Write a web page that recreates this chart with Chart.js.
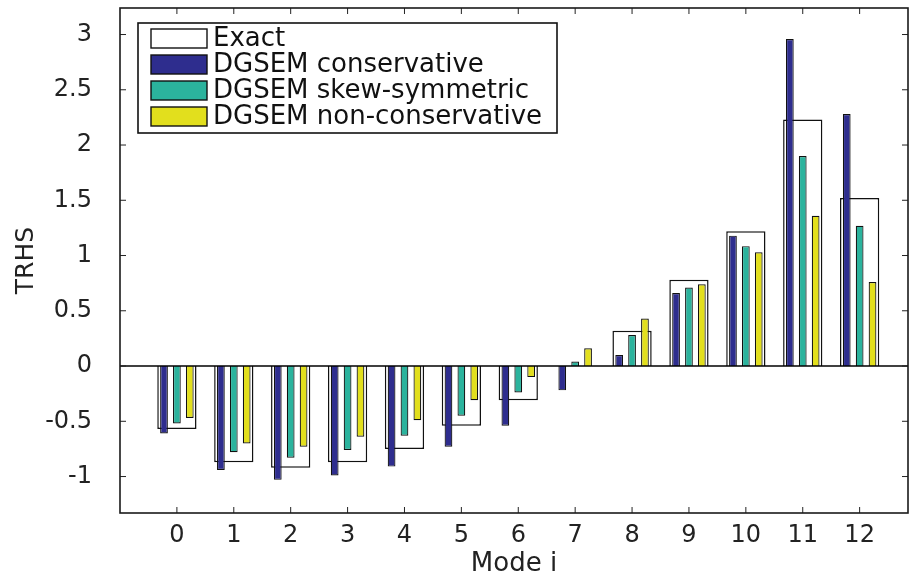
<!DOCTYPE html>
<html>
<head>
<meta charset="utf-8">
<script src="https://cdn.jsdelivr.net/npm/chart.js@4.4.1/dist/chart.umd.min.js"></script>
<style>
html,body{margin:0;padding:0;background:#fff;}
#wrap{width:910px;height:577px;position:relative;}
</style>
</head>
<body>
<div id="wrap"><canvas id="c" width="910" height="577"></canvas></div>
<script>
// ---- data ----
const modes = [0, 1, 2, 3, 4, 5, 6, 7, 8, 9, 10, 11, 12];
const xTickLabels = ['0','1','2','3','4','5','6','7','8','9','10','11','12'];
const yTickValues = [-1, -0.5, 0, 0.5, 1, 1.5, 2, 2.5, 3];
const yTickLabels = ['-1','-0.5','0','0.5','1','1.5','2','2.5','3'];
const seriesNames = ['Exact', 'DGSEM conservative', 'DGSEM skew-symmetric', 'DGSEM non-conservative'];
const exact           = [-0.57, -0.87, -0.92, -0.87, -0.75, -0.54, -0.31, 0.00, 0.32, 0.78, 1.22, 2.23, 1.52];
const conservative    = [-0.61, -0.94, -1.03, -0.99, -0.91, -0.73, -0.54, -0.22, 0.10, 0.66, 1.18, 2.96, 2.28];
const skewSymmetric   = [-0.52, -0.78, -0.83, -0.76, -0.63, -0.45, -0.24, 0.04, 0.28, 0.71, 1.085, 1.90, 1.27];
const nonConservative = [-0.47, -0.70, -0.73, -0.64, -0.49, -0.31, -0.10, 0.16, 0.43, 0.74, 1.03, 1.36, 0.76];

const toPts = arr => modes.map((m, i) => ({ x: m, y: arr[i] }));

const FONT = '"DejaVu Sans", "Liberation Sans", sans-serif';
const TXT = '#222';

const colored = { grouped: true, categoryPercentage: 0.68, barPercentage: 0.6, borderWidth: 1.2, borderColor: '#111', order: 0 };

const framePlugin = {
  id: 'matlabFrame',
  beforeDraw(chart) {
    const c = chart.ctx;
    c.save(); c.fillStyle = '#fff'; c.fillRect(0, 0, chart.width, chart.height); c.restore();
  },
  afterDatasetsDraw(chart, args, opts) {
    const { ctx, chartArea: a, scales: { x, y } } = chart;
    const line = (x1, y1, x2, y2) => { ctx.beginPath(); ctx.moveTo(x1, y1); ctx.lineTo(x2, y2); ctx.stroke(); };
    ctx.save();
    // baseline at 0
    const y0 = y.getPixelForValue(0);
    ctx.strokeStyle = '#000'; ctx.lineWidth = 1.4;
    line(a.left, y0, a.right, y0);
    // inward ticks on all four sides
    ctx.strokeStyle = TXT; ctx.lineWidth = 1;
    const tl = opts.tickLength;
    x.ticks.forEach(t => {
      if (t.value < modes[0] || t.value > modes[modes.length - 1]) return;
      const px = x.getPixelForValue(t.value);
      line(px, a.bottom, px, a.bottom - tl);
      line(px, a.top, px, a.top + tl);
    });
    y.ticks.forEach(t => {
      const py = y.getPixelForValue(t.value);
      line(a.left, py, a.left + tl, py);
      line(a.right, py, a.right - tl, py);
    });
    // box
    ctx.strokeStyle = '#1a1a1a'; ctx.lineWidth = 1.6;
    ctx.strokeRect(a.left, a.top, a.right - a.left, a.bottom - a.top);
    // legend
    const L = opts.legend;
    ctx.fillStyle = '#fff';
    ctx.fillRect(L.x, L.y, L.w, L.h);
    ctx.strokeStyle = '#111'; ctx.lineWidth = 1.6;
    ctx.strokeRect(L.x, L.y, L.w, L.h);
    ctx.font = L.font;
    ctx.textBaseline = 'middle';
    ctx.textAlign = 'left';
    seriesNames.forEach((name, i) => {
      const ds = chart.data.datasets.find(d => d.label === name);
      const cy = L.rowY + i * L.rowH;
      ctx.fillStyle = ds.backgroundColor;
      ctx.fillRect(L.swX, cy - L.swH / 2, L.swW, L.swH);
      ctx.strokeStyle = '#111'; ctx.lineWidth = 1.4;
      ctx.strokeRect(L.swX, cy - L.swH / 2, L.swW, L.swH);
      ctx.fillStyle = '#111';
      ctx.fillText(name, L.textX, cy + 1);
    });
    ctx.restore();
  }
};

new Chart(document.getElementById('c'), {
  type: 'bar',
  data: {
    datasets: [
      Object.assign({ label: seriesNames[1], data: toPts(conservative), backgroundColor: '#2e2d8e' }, colored),
      Object.assign({ label: seriesNames[2], data: toPts(skewSymmetric), backgroundColor: '#2bb39d' }, colored),
      Object.assign({ label: seriesNames[3], data: toPts(nonConservative), backgroundColor: '#e2df1d' }, colored),
      { label: seriesNames[0], data: toPts(exact), backgroundColor: '#ffffff', borderColor: '#111', borderWidth: 1.5,
        grouped: false, categoryPercentage: 1, barPercentage: 0.69, order: 1 }
    ]
  },
  options: {
    responsive: false,
    animation: false,
    layout: { padding: { top: 8, right: 2, bottom: 0, left: 0 } },
    plugins: {
      legend: { display: false },
      tooltip: { enabled: false },
      matlabFrame: {
        tickLength: 6,
        legend: { x: 138, y: 23, w: 419, h: 110, rowY: 38.5, rowH: 26, swX: 151, swW: 56, swH: 19, textX: 213,
                  font: '26px ' + FONT }
      }
    },
    scales: {
      x: {
        type: 'linear', min: -1, max: 12.85, offset: false,
        grid: { display: false, offset: false },
        border: { display: false },
        ticks: {
          stepSize: 1, includeBounds: false, autoSkip: false, maxRotation: 0, padding: 0,
          color: TXT, font: { family: FONT, size: 24 },
          callback: v => { const i = modes.indexOf(Math.round(v)); return i >= 0 ? xTickLabels[i] : ''; }
        },
        title: { display: true, text: 'Mode i', color: TXT, font: { family: FONT, size: 26, lineHeight: 1.0 }, padding: { top: 0, bottom: 0 } },
        afterFit: s => { s.height = 64; s.paddingLeft = 0; s.paddingRight = 0; }
      },
      y: {
        min: -1.33, max: 3.24,
        grid: { display: false },
        border: { display: false },
        ticks: {
          stepSize: 0.5, includeBounds: false, padding: 20,
          color: TXT, font: { family: FONT, size: 24 },
          callback: v => { const i = yTickValues.findIndex(t => Math.abs(t - v) < 1e-6); return i >= 0 ? yTickLabels[i] : ''; }
        },
        title: { display: true, text: 'TRHS', color: TXT, font: { family: FONT, size: 25 }, padding: { top: 11, bottom: 0 } },
        afterFit: s => { s.width = 120; s.paddingTop = 0; s.paddingBottom = 0; }
      }
    }
  },
  plugins: [framePlugin]
});
</script>
</body>
</html>
